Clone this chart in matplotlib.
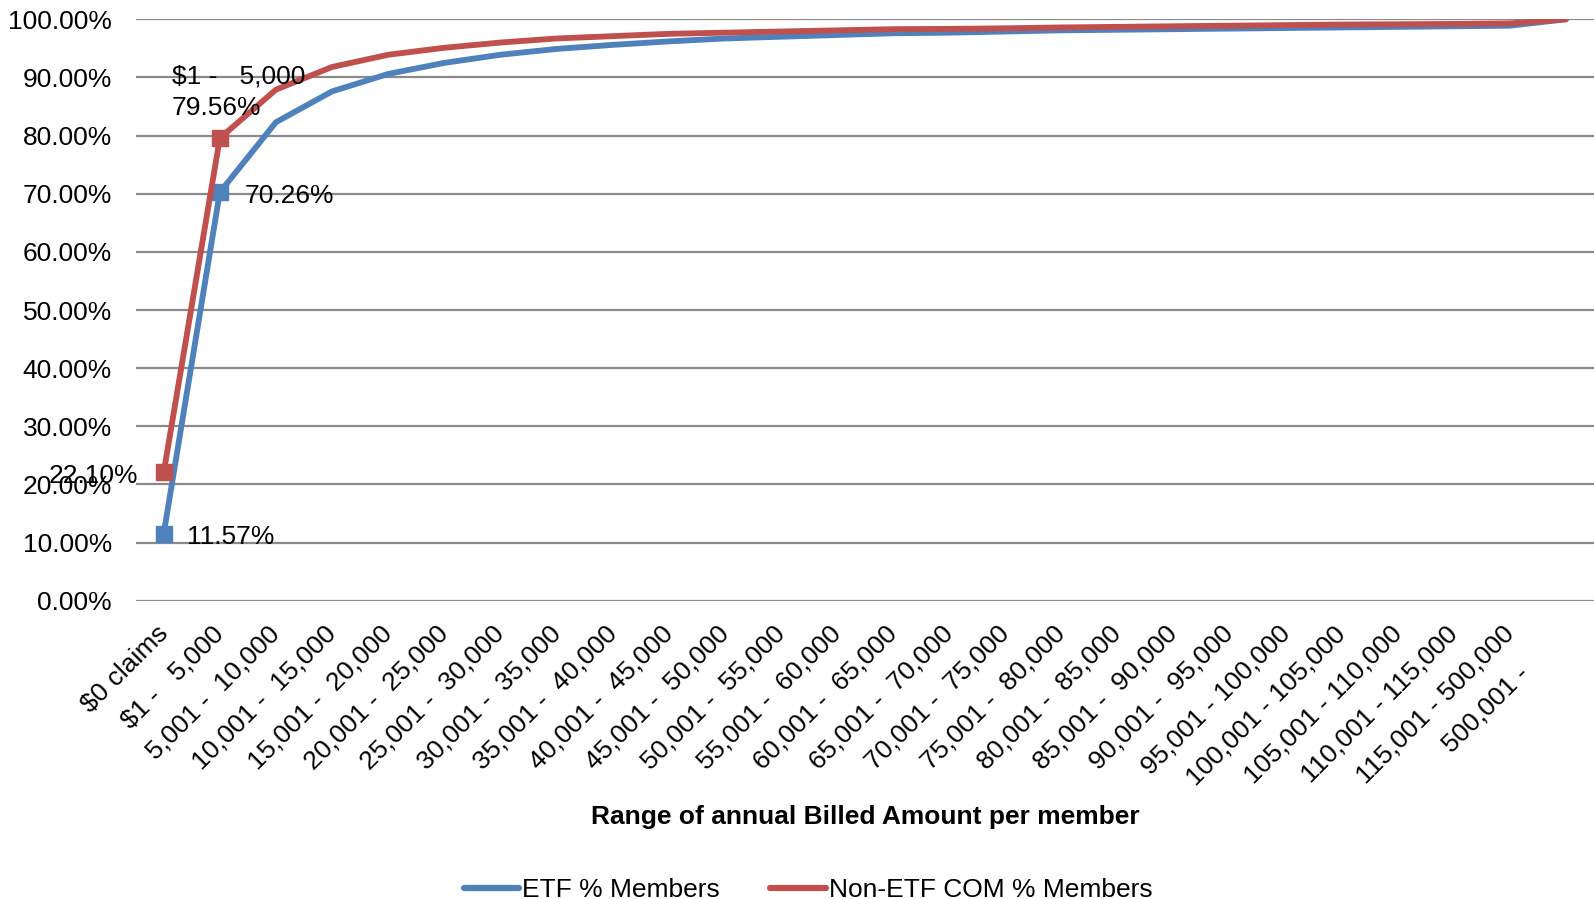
import matplotlib.pyplot as plt
from matplotlib.lines import Line2D
from matplotlib.transforms import ScaledTranslation

plt.rcParams['font.family'] = ['Liberation Sans', 'DejaVu Sans']

categories = ["$0 claims", "$1 -   5,000", "5,001 -  10,000", "10,001 -  15,000",
              "15,001 -  20,000", "20,001 -  25,000", "25,001 -  30,000",
              "30,001 -  35,000", "35,001 -  40,000", "40,001 -  45,000",
              "45,001 -  50,000", "50,001 -  55,000", "55,001 -  60,000",
              "60,001 -  65,000", "65,001 -  70,000", "70,001 -  75,000",
              "75,001 -  80,000", "80,001 -  85,000", "85,001 -  90,000",
              "90,001 -  95,000", "95,001 - 100,000", "100,001 - 105,000",
              "105,001 - 110,000", "110,001 - 115,000", "115,001 - 500,000",
              "500,001 -"]
etf = [11.57, 70.26, 82.3, 87.6, 90.6, 92.5, 93.9, 94.9, 95.6, 96.2, 96.7, 97.0,
       97.3, 97.6, 97.7, 97.9, 98.1, 98.2, 98.3, 98.4, 98.5, 98.6, 98.7, 98.8,
       98.9, 100.0]
non_etf = [22.10, 79.56, 87.9, 91.8, 93.9, 95.1, 96.0, 96.7, 97.1, 97.5, 97.7,
           97.9, 98.1, 98.3, 98.35, 98.45, 98.6, 98.7, 98.8, 98.9, 99.0, 99.1,
           99.15, 99.2, 99.3, 100.0]

blue = '#4F81BD'
red = '#C0504D'
fs = 19

fig = plt.figure(figsize=(15.94, 8.99), dpi=100)
ax = fig.add_axes([135.7/1594, 1-600.8/899, 1458.3/1594, 581.5/899])

x = list(range(len(categories)))
ax.plot(x, etf, '-', color=blue, lw=4.2, marker='s', markersize=11,
        markevery=[0, 1], solid_capstyle='round', zorder=3)
ax.plot(x, non_etf, '-', color=red, lw=4.2, marker='s', markersize=11,
        markevery=[0, 1], solid_capstyle='round', zorder=3)

ax.set_xlim(-0.5, len(categories) - 0.5)
ax.set_ylim(0, 100)
ax.set_yticks(range(0, 101, 10))
ax.set_yticklabels(["%.2f%%" % v for v in range(0, 101, 10)], fontsize=fs)
ax.set_xticks(x)
ax.set_xticklabels(categories, fontsize=fs, rotation=45, ha='right',
                   rotation_mode='anchor')
ax.tick_params(axis='y', length=0, pad=17)
ax.tick_params(axis='x', length=0, pad=20)
ax.grid(axis='y', color='#8A8A8A', lw=1.6)
ax.set_axisbelow(True)
for s in ax.spines.values():
    s.set_visible(False)

# nudge the category labels like excel places them
labels = ax.get_xticklabels()
for i, lab in enumerate(labels):
    if i == len(labels) - 1:
        off = ScaledTranslation(-0.49, -0.33, fig.dpi_scale_trans)
    else:
        off = ScaledTranslation(-0.08, 0.07, fig.dpi_scale_trans)
    lab.set_transform(lab.get_transform() + off)

# data labels
ax.annotate("11.57%", (0, etf[0]), xytext=(17, -2.5), textcoords='offset points',
            va='center', ha='left', fontsize=fs)
ax.annotate("70.26%", (1, etf[1]), xytext=(18, -2.5), textcoords='offset points',
            va='center', ha='left', fontsize=fs)
ax.annotate("22.10%", (0, non_etf[0]), xytext=(-18.5, -2.5), textcoords='offset points',
            va='center', ha='right', fontsize=fs)
ax.annotate("$1 -   5,000\n79.56%", (1, non_etf[1]), xytext=(-34.5, 13),
            textcoords='offset points', va='bottom', ha='left', fontsize=fs,
            linespacing=1.4)

ax.set_xlabel("Range of annual Billed Amount per member", fontsize=fs,
              fontweight='bold')
ax.xaxis.set_label_coords(0.5, -0.352)

handles = [Line2D([], [], color=blue, lw=4.5, solid_capstyle='round'),
           Line2D([], [], color=red, lw=4.5, solid_capstyle='round')]
fig.legend(handles, ['ETF % Members', 'Non-ETF COM % Members'], loc='center',
           bbox_to_anchor=(808/1594, 1-890/899), ncol=2, frameon=False, fontsize=fs,
           handlelength=2.1, columnspacing=1.9, handletextpad=0.12)

plt.savefig("out.png")
